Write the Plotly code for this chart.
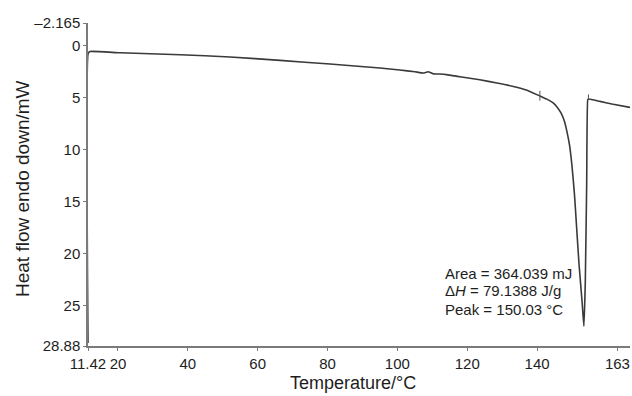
import plotly.graph_objects as go

# DSC curve (temperature °C, heat flow mW, endo down)
temperature = [11.42, 11.46, 12.0, 20.6, 37.8, 52.1, 66.4, 80.7, 95.0, 100.7, 105.0, 107.4,
               108.8, 110.2, 112.2, 114.1, 117.9, 123.6, 128.5, 133.2, 137.1, 140.8,
               142.8, 144.6, 145.7, 146.8, 147.8, 148.5, 149.3, 150.0, 150.7, 151.3,
               152.0, 152.9, 153.4, 153.8, 154.2, 154.5, 154.7, 158.0, 161.4, 166.6]
heat_flow = [28.6, 0.75, 0.57, 0.7, 0.88, 1.1, 1.43, 1.78, 2.16, 2.35, 2.52, 2.64,
             2.52, 2.71, 2.74, 2.80, 3.0, 3.29, 3.6, 3.93, 4.3, 4.85,
             5.15, 5.52, 5.9, 6.45, 7.25, 8.2, 9.6, 11.6, 14.3, 17.4,
             21.0, 24.7, 26.98, 22.79, 13.18, 5.21, 5.14, 5.37, 5.62, 5.95]

# integration limit markers
marker_temps = [140.8, 154.7]
marker_low = [4.35, 4.7]
marker_high = [5.3, 5.2]

x_tickvals = [11.42, 20, 40, 60, 80, 100, 120, 140, 163]
x_ticktext = ["11.42", "20", "40", "60", "80", "100", "120", "140", "163"]
y_tickvals = [-2.165, 0, 5, 10, 15, 20, 25, 28.88]
y_ticktext = ["\u20132.165", "0", "5", "10", "15", "20", "25", "28.88"]

annot_lines = ["Area = 364.039 mJ", "\u0394<i>H</i> = 79.1388 J/g", "Peak = 150.03 \u00b0C"]

FONT = "Liberation Sans, Arial, sans-serif"
AXC = "#7a7a7a"
TXT = "#1e1e1e"

fig = go.Figure()
fig.add_trace(go.Scatter(x=temperature, y=heat_flow, mode="lines",
                         line=dict(color="#3a3a3a", width=1.6, shape="spline", smoothing=0.4),
                         hoverinfo="skip"))
for t, lo, hi in zip(marker_temps, marker_low, marker_high):
    fig.add_trace(go.Scatter(x=[t, t], y=[lo, hi], mode="lines",
                             line=dict(color="#555555", width=1), hoverinfo="skip"))

fig.update_layout(
    width=632, height=396,
    margin=dict(l=88, r=2, t=23, b=50),
    paper_bgcolor="white", plot_bgcolor="white",
    showlegend=False,
    font=dict(family=FONT, color=TXT, size=15),
)
fig.update_xaxes(range=[11.42, 166.6], tickvals=x_tickvals, ticktext=x_ticktext,
                 showgrid=False, zeroline=False, showline=True, linecolor=AXC, linewidth=1.5,
                 ticks="outside", ticklen=3, tickcolor=AXC, tickwidth=1,
                 ticklabeloverflow="allow",
                 tickfont=dict(size=15, family=FONT, color=TXT), automargin=False)
fig.update_yaxes(range=[28.88, -2.165], tickvals=y_tickvals, ticktext=y_ticktext,
                 showgrid=False, zeroline=False, showline=True, linecolor=AXC, linewidth=1.5,
                 ticks="outside", ticklen=3, tickcolor=AXC, tickwidth=1,
                 ticklabeloverflow="allow",
                 tickfont=dict(size=15, family=FONT, color=TXT), automargin=False)

PW = 632 - 88 - 2
PH = 396 - 23 - 50
# axis titles
fig.add_annotation(text="Temperature/\u00b0C", xref="paper", yref="paper",
                   x=(353 - 88) / PW, y=-(383 - 346) / PH, showarrow=False,
                   xanchor="center", yanchor="middle",
                   font=dict(size=18, family=FONT, color=TXT))
fig.add_annotation(text="Heat flow endo down/mW", xref="paper", yref="paper",
                   x=-(88 - 23) / PW, y=(346 - 189) / PH, showarrow=False, textangle=-90,
                   xanchor="center", yanchor="middle",
                   font=dict(size=19, family=FONT, color=TXT))

# result annotation
for line, ypx in zip(annot_lines, [273.3, 290.7, 309.3]):
    fig.add_annotation(text=line, xref="paper", yref="paper",
                       x=(443 - 88) / PW, y=(346 - ypx) / PH, showarrow=False,
                       xanchor="left", yanchor="middle",
                       font=dict(size=15, family=FONT, color=TXT))

fig.write_html("out.html")
